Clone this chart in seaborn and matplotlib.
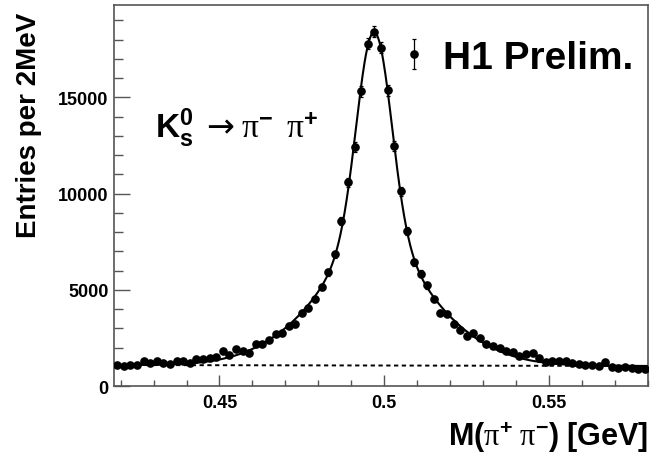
import numpy as np
import matplotlib
matplotlib.use("Agg")
import matplotlib.pyplot as plt
import seaborn as sns
from matplotlib.legend_handler import HandlerErrorbar
from matplotlib.ticker import MultipleLocator

# Histogram definition: 2 MeV bins from 0.418 to 0.580 GeV
mass_lo, mass_hi, bin_width = 0.418, 0.580, 0.002
n_bins = 81
bin_centers = mass_lo + bin_width * (np.arange(n_bins) + 0.5)

# Entries per bin
counts = np.array([
    1078, 1042, 1090, 1110, 1320, 1215, 1285, 1180, 1150, 1285,
    1320, 1215, 1425, 1425, 1460, 1495, 1807, 1600, 1911, 1823,
    1737, 2172, 2172, 2396, 2693, 2760, 3140, 3214, 3800, 4050,
    4500, 5125, 5906, 6859, 8580, 10594, 12417, 15313, 17797, 18420,
    17573, 15365, 12469, 10115, 8060, 6427, 5835, 5225, 4500, 3800,
    3750, 3240, 2900, 2580, 2760, 2500, 2160, 2070, 2000, 1823,
    1790, 1550, 1650, 1700, 1450, 1260, 1290, 1320, 1320, 1190,
    1130, 1115, 1078, 1042, 1230, 1010, 960, 1000, 950, 906,
    880,
], dtype=float)
errors = 2.2 * np.sqrt(counts)

# Background level at the two ends of the mass window
bg_ends = [1090, 1040]

x_ticks = [0.45, 0.50, 0.55]
x_ticklabels = ["0.45", "0.5", "0.55"]
y_ticks = [0, 5000, 10000, 15000]
y_ticklabels = ["0", "5000", "10000", "15000"]


def background(x):
    return np.interp(x, [mass_lo, mass_hi], bg_ends)


# Signal fit: sum of Gaussians with a common centre, amplitudes by weighted least squares
widths = np.array([0.0025, 0.005, 0.010, 0.020])
signal = counts - background(bin_centers)
w = 1.0 / np.sqrt(counts)
best = None
for m0 in np.arange(0.4960, 0.4985, 0.0001):
    basis = np.exp(-0.5 * ((bin_centers[:, None] - m0) / widths) ** 2)
    coef, *_ = np.linalg.lstsq(basis * w[:, None], signal * w, rcond=None)
    chi2 = np.sum(((basis @ coef - signal) * w) ** 2)
    if best is None or chi2 < best[0]:
        best = (chi2, m0, coef)
_, m_fit, amp_fit = best

x_fine = np.linspace(mass_lo, mass_hi, 800)
bg_fine = background(x_fine)
fit_fine = bg_fine + np.exp(-0.5 * ((x_fine[:, None] - m_fit) / widths) ** 2) @ amp_fit

sns.set_theme(style="ticks")
plt.rcParams["font.family"] = ["Liberation Sans", "DejaVu Sans"]
plt.rcParams["text.color"] = "black"
plt.rcParams["axes.labelcolor"] = "black"
plt.rcParams["xtick.labelcolor"] = "black"
plt.rcParams["ytick.labelcolor"] = "black"
plt.rcParams["mathtext.fontset"] = "custom"
plt.rcParams["mathtext.rm"] = "Liberation Serif:normal"
plt.rcParams["mathtext.bf"] = "Liberation Sans:bold"
plt.rcParams["mathtext.it"] = "Liberation Serif:italic"
plt.rcParams["mathtext.sf"] = "DejaVu Sans:normal"

frame_col = "#555555"
fig = plt.figure(figsize=(6.5, 4.6), dpi=100)
ax = fig.add_axes([114 / 650, 1 - 387 / 460, (648 - 114) / 650, (387 - 6) / 460])

sns.lineplot(x=x_fine, y=bg_fine, ax=ax, color="black", linewidth=1.4,
             linestyle=(0, (2.2, 1.8)), zorder=2)
sns.lineplot(x=x_fine, y=fit_fine, ax=ax, color="black", linewidth=1.5, zorder=3)
eb = ax.errorbar(bin_centers, counts, yerr=errors, fmt="o", color="black",
                 markersize=5.2, elinewidth=0.9, capsize=1.6, capthick=0.9,
                 zorder=4, label="H1 Prelim.")

ax.set_xlim(mass_lo, mass_hi)
ax.set_ylim(0, 19800)
ax.set_xticks(x_ticks)
ax.set_xticklabels(x_ticklabels)
ax.set_yticks(y_ticks)
ax.set_yticklabels(y_ticklabels)
ax.xaxis.set_minor_locator(MultipleLocator(0.01))
ax.yaxis.set_minor_locator(MultipleLocator(1000))

for side in ["left", "bottom", "top", "right"]:
    ax.spines[side].set_color(frame_col)
    ax.spines[side].set_linewidth(1.2)
ax.tick_params(axis="both", which="both", direction="in", color=frame_col,
               top=False, right=False, labelsize=13, width=1.0)
ax.tick_params(axis="y", which="major", length=11.5, pad=4)
ax.tick_params(axis="y", which="minor", length=6.5)
ax.tick_params(axis="x", which="major", length=8, pad=6)
ax.tick_params(axis="x", which="minor", length=4.3)
for lab in ax.get_xticklabels() + ax.get_yticklabels():
    lab.set_fontweight("bold")

ax.set_ylabel("Entries per 2MeV", fontsize=20, fontweight="bold", loc="top")
ax.yaxis.set_label_coords(-0.135, 0.982)
ax.set_xlabel(r"$\mathbf{M(}\mathrm{π}^{\mathbf{+}}\ \mathrm{π}^{\mathbf{-}}\mathbf{)\ [GeV]}$",
              fontsize=22, loc="right")
ax.xaxis.set_label_coords(1.0, -0.09)

ax.text(0.077, 0.654,
        r"$\mathbf{K^0_s}\;\;\mathsf{→}\;\mathrm{π}^{\mathbf{-}}\;\;\mathrm{π}^{\mathbf{+}}$",
        transform=ax.transAxes, fontsize=24, ha="left", va="baseline")

ax.legend(handles=[eb], loc="center right", bbox_to_anchor=(0.972, 0.862),
          frameon=False, handlelength=0.5, handletextpad=0.5,
          borderpad=0, borderaxespad=0,
          handler_map={type(eb): HandlerErrorbar(yerr_size=0.39)},
          prop={"weight": "bold", "size": 28})

fig.savefig("out.png", dpi=100)
